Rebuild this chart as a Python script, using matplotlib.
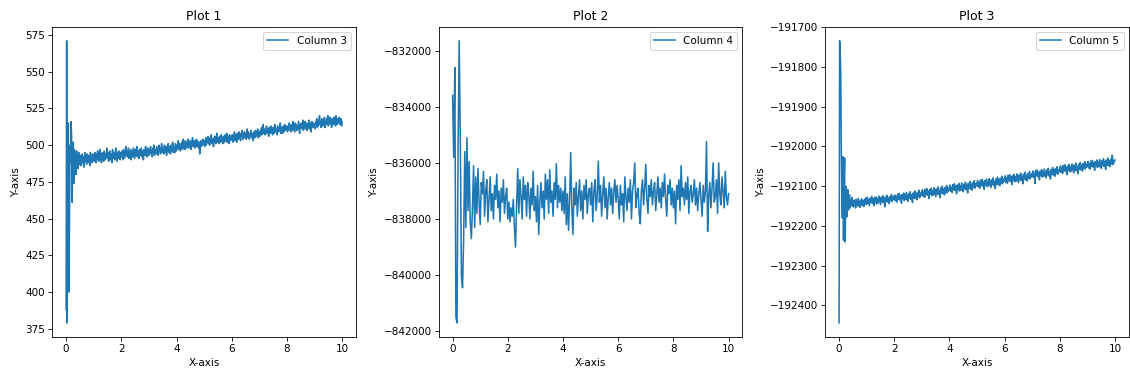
import matplotlib
matplotlib.use("Agg")
import matplotlib.pyplot as plt, numpy as np

# Column 3 (Plot 1)
col3 = [388, 571, 379, 470, 515, 400, 442, 500, 488, 516, 505, 461, 498, 502, 474, 497, 483, 495, 480, 496, 486, 493, 484, 495, 487,
        489, 493, 486, 491, 494, 488, 492, 485, 490, 495, 489, 492, 487, 494, 490, 488, 493, 491, 486, 495, 490, 492, 488, 494, 491,
        493, 489, 495, 491, 488, 494, 490, 496, 492, 489, 493, 497, 490, 494, 488, 492, 495, 491, 489, 496, 493, 490, 494, 492, 498,
        491, 495, 489, 493, 496, 490, 494, 492, 488, 497, 493, 491, 495, 490, 494, 498, 492, 489, 495, 493, 491, 496, 494, 490, 495,
        492, 496, 493, 490, 497, 494, 491, 495, 499, 493, 496, 492, 494, 498, 491, 495, 493, 497, 490, 496, 494, 492, 498, 495, 491,
        497, 493, 495, 499, 492, 496, 494, 491, 497, 495, 493, 498, 492, 496, 494, 490, 497, 495, 493, 499, 494, 496, 492, 498, 495,
        493, 497, 495, 499, 494, 496, 492, 498, 495, 500, 493, 497, 496, 494, 499, 495, 497, 493, 500, 496, 498, 494, 497, 501, 495,
        498, 496, 494, 500, 497, 495, 499, 493, 498, 496, 501, 495, 499, 497, 494, 500, 498, 496, 502, 495, 499, 497, 495, 501, 498,
        496, 500, 498, 503, 497, 499, 501, 496, 500, 498, 502, 497, 504, 499, 501, 497, 503, 500, 498, 502, 499, 504, 498, 501, 500,
        503, 497, 502, 500, 505, 499, 501, 503, 498, 502, 500, 504, 499, 503, 501, 498, 502, 494, 500, 503, 499, 502, 500, 504, 501,
        503, 499, 502, 505, 500, 504, 502, 506, 501, 503, 500, 505, 502, 507, 501, 504, 503, 499, 505, 502, 506, 501, 504, 508, 502,
        505, 503, 501, 506, 504, 502, 507, 503, 505, 501, 506, 504, 502, 507, 505, 503, 508, 502, 506, 504, 501, 507, 505, 503, 506,
        504, 507, 502, 506, 505, 509, 503, 507, 505, 502, 508, 506, 504, 509, 505, 507, 503, 508, 506, 510, 504, 507, 505, 509, 506,
        508, 504, 507, 511, 505, 509, 507, 504, 508, 506, 510, 505, 508, 507, 503, 509, 507, 505, 510, 506, 509, 507, 511, 505, 508,
        509, 506, 510, 508, 512, 507, 509, 514, 508, 511, 507, 510, 509, 513, 508, 511, 509, 506, 512, 510, 508, 513, 509, 511, 507,
        512, 510, 508, 514, 509, 511, 510, 507, 513, 511, 509, 512, 510, 515, 508, 512, 510, 508, 513, 511, 509, 514, 510, 512, 511,
        513, 509, 512, 510, 515, 511, 513, 509, 514, 512, 510, 516, 511, 513, 509, 515, 512, 514, 510, 513, 511, 516, 512, 508, 514,
        512, 515, 511, 513, 517, 510, 514, 512, 516, 511, 513, 515, 510, 514, 512, 517, 511, 515, 513, 509, 516, 514, 512, 515, 513,
        514, 511, 516, 513, 518, 512, 515, 513, 517, 520, 514, 516, 512, 518, 515, 513, 517, 514, 519, 512, 516, 514, 518, 515, 520,
        513, 517, 515, 519, 514, 516, 512, 518, 516, 514, 519, 515, 517, 513, 520, 516, 514, 518, 515, 517, 519, 514, 516, 518, 513, 516]

# Column 4 (Plot 2)
col4 = [-833600, -835800, -832600, -841500, -841700, -835300, -831650, -835200, -840050, -840450,
        -838750, -835600, -838300, -835100, -837700, -835950, -838100, -838700, -837600, -836100, -838300,
        -836500, -837800, -836200, -837400, -838200, -836700, -837100, -836300, -837900, -837000,
        -836600, -838100, -837300, -836500, -837700, -837100, -838000, -836800, -837300, -836400,
        -837600, -837000, -838100, -836900, -837400, -836600, -837800, -837200, -836900,
        -838000, -837400, -838100, -837600, -837900, -837300, -838300, -839000, -837500, -836200,
        -837800, -836600, -837200, -838000, -836500, -837300, -836800, -837900, -836700, -837100,
        -838000, -836900, -837500, -836300, -837700,
        -837200, -838100, -836800, -838550, -837400, -836700, -837600, -837000, -838000, -836400,
        -837300, -836600, -837800, -836250, -837400, -837000, -837900, -836700, -837300, -836030,
        -837600, -836800, -837400, -836900, -837700,
        -837000, -837800, -836500, -838200, -837100, -838400, -837300, -835630, -837600, -838550,
        -836900, -837500, -836700, -837900, -837200, -836600, -837700, -837000, -838000, -836800,
        -837300, -836600, -837800, -837100, -836900,
        -837500, -836700, -838100, -837000, -836600, -837700, -837200, -835940, -837400, -836800,
        -837900, -837100, -836500, -837600, -836900, -838000, -837200, -836700, -837500, -836900,
        -837800, -837000, -836600, -837400, -836800,
        -837300, -838000, -836800, -837500, -837100, -838100, -836500, -837200, -837700, -836900,
        -837400, -836600, -838000, -837000, -836700, -836000, -837600, -837100, -836900, -837800,
        -838170, -837000, -836600, -837500, -836900,
        -836050, -837300, -837800, -836800, -837200, -836600, -837500, -837000, -836700, -837700,
        -837100, -836500, -837400, -836900, -837600, -836700, -837200, -836400, -837300, -837900,
        -836800, -837100, -836600, -837500, -836900,
        -837600, -837000, -838170, -836800, -837300, -836600, -837700, -836100, -837200, -836900,
        -837500, -836700, -837300, -836500, -837800, -837000, -836800, -837400, -837100, -836600,
        -837500, -836900, -837700, -837100, -836700,
        -837300, -837900, -836800, -837400, -837000, -835240, -838440, -837200, -836700, -837600,
        -836900, -836000, -837400, -837200, -836600, -837800, -836000, -837100, -837500, -836500,
        -837000, -837600, -836300, -837200, -837500, -837100]

# Column 5 (Plot 3)
col5 = [-192444, -191734, -191760, -191808, -192000, -192127, -192180, -192026, -192236, -192090, -192029, -192240, -192150,
        -192101, -192177, -192120, -192109, -192160, -192130, -192122, -192155, -192135, -192148, -192128, -192150,
        -192138, -192152, -192135, -192146, -192141, -192155, -192133, -192147, -192140, -192150, -192131, -192144, -192139,
        -192153, -192136, -192145, -192132, -192149, -192140, -192137, -192151, -192134, -192143, -192130, -192146,
        -192139, -192128, -192144, -192133, -192137, -192148, -192130, -192141, -192135, -192126, -192143, -192132, -192138,
        -192149, -192129, -192136, -192140, -192127, -192145, -192133, -192131, -192142, -192125, -192137, -192134,
        -192146, -192128, -192135, -192139, -192124, -192141, -192130, -192136, -192152, -192127, -192133, -192138, -192123,
        -192140, -192131, -192129, -192144, -192126, -192135, -192132, -192121, -192139, -192128, -192134, -192125,
        -192131, -192122, -192137, -192126, -192129, -192140, -192120, -192133, -192127, -192118, -192135, -192124, -192130,
        -192143, -192121, -192128, -192132, -192117, -192136, -192125, -192123, -192134, -192116, -192129, -192126,
        -192138, -192119, -192127, -192131, -192114, -192133, -192122, -192128, -192141, -192117, -192125, -192130, -192112,
        -192131, -192121, -192119, -192134, -192115, -192127, -192123, -192110, -192129, -192118, -192124, -192116,
        -192120, -192109, -192125, -192114, -192117, -192128, -192108, -192121, -192115, -192106, -192123, -192112, -192118,
        -192131, -192109, -192116, -192120, -192105, -192124, -192113, -192111, -192122, -192104, -192117, -192114,
        -192126, -192107, -192115, -192119, -192102, -192121, -192110, -192116, -192129, -192105, -192113, -192118, -192100,
        -192119, -192109, -192107, -192122, -192103, -192115, -192111, -192098, -192117, -192106, -192112, -192104,
        -192108, -192097, -192113, -192102, -192105, -192116, -192096, -192109, -192103, -192094, -192111, -192100, -192106,
        -192119, -192097, -192104, -192108, -192093, -192112, -192101, -192099, -192110, -192092, -192105, -192102,
        -192114, -192095, -192103, -192107, -192090, -192109, -192098, -192104, -192117, -192093, -192101, -192106, -192088,
        -192107, -192097, -192095, -192110, -192091, -192103, -192099, -192086, -192105, -192094, -192100, -192092,
        -192097, -192086, -192102, -192091, -192094, -192105, -192085, -192098, -192092, -192083, -192100, -192089, -192095,
        -192108, -192086, -192093, -192097, -192082, -192101, -192090, -192088, -192099, -192081, -192094, -192091,
        -192103, -192084, -192092, -192096, -192079, -192098, -192087, -192093, -192106, -192082, -192090, -192095, -192077,
        -192096, -192086, -192084, -192099, -192080, -192092, -192088, -192075, -192094, -192083, -192089, -192081,
        -192085, -192074, -192090, -192079, -192082, -192093, -192073, -192086, -192080, -192071, -192088, -192077, -192083,
        -192096, -192074, -192081, -192085, -192070, -192089, -192078, -192076, -192087, -192069, -192082, -192079,
        -192091, -192072, -192080, -192084, -192067, -192086, -192075, -192081, -192094, -192070, -192078, -192083, -192065,
        -192084, -192074, -192072, -192087, -192068, -192080, -192076, -192063, -192082, -192071, -192077, -192069,
        -192073, -192062, -192078, -192067, -192070, -192093, -192061, -192074, -192068, -192059, -192076, -192065, -192071,
        -192084, -192062, -192069, -192073, -192058, -192077, -192066, -192064, -192075, -192057, -192070, -192067,
        -192079, -192060, -192068, -192072, -192055, -192074, -192063, -192069, -192082, -192058, -192066, -192071, -192053,
        -192072, -192062, -192060, -192075, -192056, -192068, -192064, -192051, -192070, -192059, -192065, -192057,
        -192060, -192049, -192065, -192054, -192057, -192068, -192048, -192061, -192055, -192046, -192063, -192052, -192058,
        -192071, -192049, -192056, -192060, -192045, -192064, -192053, -192051, -192062, -192044, -192057, -192054,
        -192066, -192047, -192055, -192059, -192042, -192061, -192050, -192056, -192069, -192045, -192053, -192058, -192040,
        -192059, -192049, -192047, -192062, -192043, -192055, -192051, -192038, -192057, -192046, -192052, -192044,
        -192049, -192038, -192054, -192043, -192046, -192057, -192037, -192050, -192044, -192035, -192052, -192041, -192047,
        -192060, -192038, -192045, -192049, -192034, -192053, -192042, -192040, -192051, -192033, -192046, -192043,
        -192055, -192036, -192044, -192048, -192031, -192050, -192039, -192045, -192058, -192034, -192042, -192047, -192029,
        -192048, -192038, -192036, -192051, -192032, -192044, -192040, -192022, -192046, -192035, -192041, -192037, -192034]

series = [col3, col4, col5]
labels = ['Column 3', 'Column 4', 'Column 5']
titles = ['Plot 1', 'Plot 2', 'Plot 3']

if __name__ == "__main__":
    fig, axes = plt.subplots(1, 3, figsize=(1130 / 75, 381 / 75), dpi=75)
    fig.subplots_adjust(left=0.0463, right=0.999, bottom=0.1155, top=0.930, wspace=0.273)
    for ax, y, lab, t in zip(axes, series, labels, titles):
        x = np.linspace(0, 10, len(y))
        ax.plot(x, y, label=lab)
        ax.set_title(t)
        ax.set_xlabel('X-axis')
        ax.set_ylabel('Y-axis')
        ax.legend(loc='upper right')
    fig.savefig('out.png', dpi=75)
